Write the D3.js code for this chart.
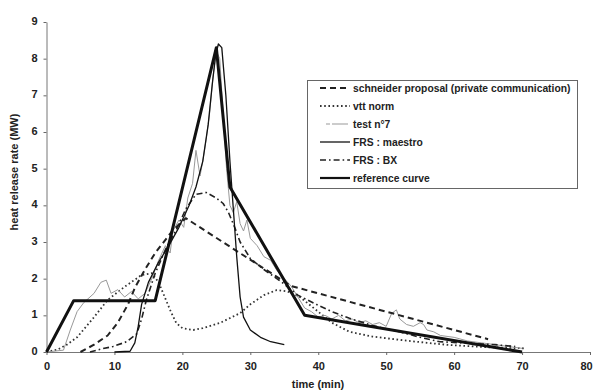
<!DOCTYPE html>
<html>
<head>
<meta charset="utf-8">
<script src="https://cdn.jsdelivr.net/npm/d3@7"></script>
<style>
  html, body { margin: 0; padding: 0; background: #fff; }
  svg { display: block; font-family: "Liberation Sans", Arial, sans-serif; }
</style>
</head>
<body>
<svg id="chart" width="595" height="390"></svg>
<script>
// Heat release rate curves, time in minutes, HRR in MW
const xTicks = [0, 10, 20, 30, 40, 50, 60, 70, 80];
const yTicks = [0, 1, 2, 3, 4, 5, 6, 7, 8, 9];

const schneider = [[5,0],[7,0.2],[9,0.45],[10.5,0.8],[12,1.3],[13,1.75],[14.5,2.25],[16,2.7],[18.5,3.3],[20.5,3.65],[36,1.8],[65,0.35]];

const vttNorm = [[0,0],[1.7,0.07],[3,0.2],[4.5,0.4],[7,0.95],[9,1.42],[11.5,1.78],[14,2.1],[15.5,2.15],[16.5,1.9],[17.4,1.5],[18.3,1.1],[19.1,0.79],[20,0.65],[21.6,0.6],[23,0.65],[25.5,0.79],[28.5,1.06],[30,1.3],[32,1.55],[33.9,1.69],[35.5,1.65],[37.3,1.5],[40,1.1],[42,0.8],[44.6,0.55],[48,0.42],[52,0.33],[56,0.25],[59.3,0.19],[65,0.13],[70.5,0.1]];

const test7 = [[0,0],[2.5,0.05],[3.5,0.6],[4.5,1.1],[5.5,1.35],[7,1.6],[8,1.9],[8.8,1.96],[9.5,1.6],[10.5,1.7],[11.5,1.5],[12.5,1.65],[13.5,1.45],[14.5,1.6],[15.5,2.0],[16.5,2.5],[17.5,2.9],[18.2,2.7],[18.6,3.3],[19.5,3.6],[20.2,3.4],[20.8,4.2],[21.5,4.6],[22,5.5],[22.6,4.8],[23,5.2],[23.5,5.8],[24,6.5],[24.5,7.5],[25,8.2],[25.5,8.0],[26,6.5],[26.5,5.0],[27,4.0],[27.5,3.8],[28,4.1],[28.5,3.5],[29,3.3],[29.5,3.6],[30,3.1],[31,2.9],[32,2.6],[33,2.5],[34,2.2],[35,2.0],[36,1.8],[37,1.5],[38,1.2],[39,1.1],[40,0.95],[41,1.0],[42,0.9],[43,1.0],[44,0.85],[45,0.9],[46,0.8],[47,0.85],[48,0.75],[49,0.8],[50,0.7],[50.8,1.05],[51.5,1.15],[52,0.9],[53,0.75],[54,0.7],[55,0.8],[55.5,0.75],[56,0.6],[57,0.55],[58,0.45],[60,0.4],[62,0.3],[64,0.25],[66,0.2],[68,0.15],[70,0.1]];

const frsMaestro = [[10,0],[12.3,0.02],[13,0.25],[13.5,0.7],[14,1.3],[15,1.9],[16.5,2.45],[18,2.9],[19.5,3.4],[21,4.0],[22,4.5],[23,5.2],[23.8,6.2],[24.4,7.3],[24.9,8.1],[25.3,8.4],[25.8,8.3],[26.4,7.0],[27,5.2],[27.5,3.9],[28,2.6],[28.5,1.5],[29,0.95],[30,0.6],[31.5,0.4],[33,0.28],[35,0.2]];

const frsBX = [[6.4,0],[8,0.08],[9.8,0.15],[11.8,0.28],[13.3,0.5],[14,0.9],[14.7,1.42],[16,2.15],[17.7,2.87],[19.1,3.33],[20.5,3.9],[22,4.3],[23.5,4.35],[25,4.2],[26,4.05],[26.8,3.8],[27.7,3.4],[28.5,3.0],[30,2.55],[32,2.25],[34.8,1.88],[37,1.55],[39.7,1.3],[42,1.1],[44.6,0.92],[48,0.72],[52,0.55],[55,0.4],[57.9,0.28],[62,0.24],[66,0.2],[69,0.15]];

const referenceCurve = [[0,0],[4,1.4],[16,1.4],[25,8.3],[27,4.5],[38,1.0],[70,0]];

const seriesNames = [
  "schneider proposal (private communication)",
  "vtt norm",
  "test n°7",
  "FRS : maestro",
  "FRS : BX",
  "reference curve"
];

const styles = {
  "schneider proposal (private communication)": { data: schneider, color: "#222", width: 2, dash: "6,4" },
  "vtt norm": { data: vttNorm, color: "#333", width: 1.8, dash: "1.6,2.6" },
  "test n°7": { data: test7, color: "#999", width: 1, dash: null },
  "FRS : maestro": { data: frsMaestro, color: "#111", width: 1.3, dash: null },
  "FRS : BX": { data: frsBX, color: "#222", width: 1.6, dash: "6,3,1.6,3" },
  "reference curve": { data: referenceCurve, color: "#111", width: 3, dash: null }
};

const svg = d3.select("#chart");
const x = d3.scaleLinear().domain([0, 80]).range([46.5, 590]);
const y = d3.scaleLinear().domain([0, 9]).range([352, 22]);

// Axes
const xAxis = svg.append("g")
  .attr("transform", `translate(0,${y(0)})`)
  .call(d3.axisBottom(x).tickValues(xTicks).tickSizeInner(3).tickSizeOuter(0).tickPadding(7));
const yAxis = svg.append("g")
  .attr("transform", `translate(${x(0)},0)`)
  .call(d3.axisLeft(y).tickValues(yTicks).tickSizeInner(3).tickSizeOuter(0).tickPadding(6));

[xAxis, yAxis].forEach(g => {
  g.select(".domain").attr("stroke", "#777").attr("stroke-width", 1);
  g.selectAll(".tick line").attr("stroke", "#666");
  g.selectAll(".tick text")
    .attr("fill", "#222")
    .style("font-size", "11px")
    .style("font-weight", "bold");
});
yAxis.selectAll(".tick text").attr("dy", "0.22em");
// keep the last time label inside the frame
xAxis.selectAll(".tick text").filter(d => d === 80).attr("dx", -4);

// Axis titles
svg.append("text")
  .attr("x", 318).attr("y", 388)
  .attr("text-anchor", "middle")
  .style("font-size", "11px").style("font-weight", "bold").attr("fill", "#222")
  .text("time (min)");
svg.append("text")
  .attr("transform", "translate(18,172) rotate(-90)")
  .attr("text-anchor", "middle")
  .style("font-size", "11px").style("font-weight", "bold").attr("fill", "#222")
  .text("heat release rate (MW)");

// Curves
const line = d3.line().x(d => x(d[0])).y(d => y(d[1]));
const drawOrder = ["vtt norm", "test n°7", "schneider proposal (private communication)", "FRS : BX", "FRS : maestro", "reference curve"];
drawOrder.forEach(name => {
  const s = styles[name];
  svg.append("path")
    .datum(s.data)
    .attr("fill", "none")
    .attr("stroke", s.color)
    .attr("stroke-width", s.width)
    .attr("stroke-dasharray", s.dash)
    .attr("stroke-linejoin", "round")
    .attr("d", line);
});

// Legend
const legend = svg.append("g");
legend.append("rect")
  .attr("x", 307.5).attr("y", 80.5).attr("width", 270).attr("height", 108)
  .attr("fill", "#fff").attr("stroke", "#666").attr("stroke-width", 1);
seriesNames.forEach((name, i) => {
  const s = styles[name];
  const ly = 88 + i * 18;
  legend.append("line")
    .attr("x1", name === "test n°7" ? 326 : 320).attr("x2", 350)
    .attr("y1", ly).attr("y2", ly)
    .attr("stroke", s.color)
    .attr("stroke-width", Math.min(s.width, 2.2))
    .attr("stroke-dasharray", name === "test n°7" ? "4,2,12,0" : s.dash);
  legend.append("text")
    .attr("x", 353).attr("y", ly).attr("dy", "0.35em")
    .style("font-size", "10.3px").style("font-weight", "bold").attr("fill", "#222")
    .text(name);
});
</script>
</body>
</html>
